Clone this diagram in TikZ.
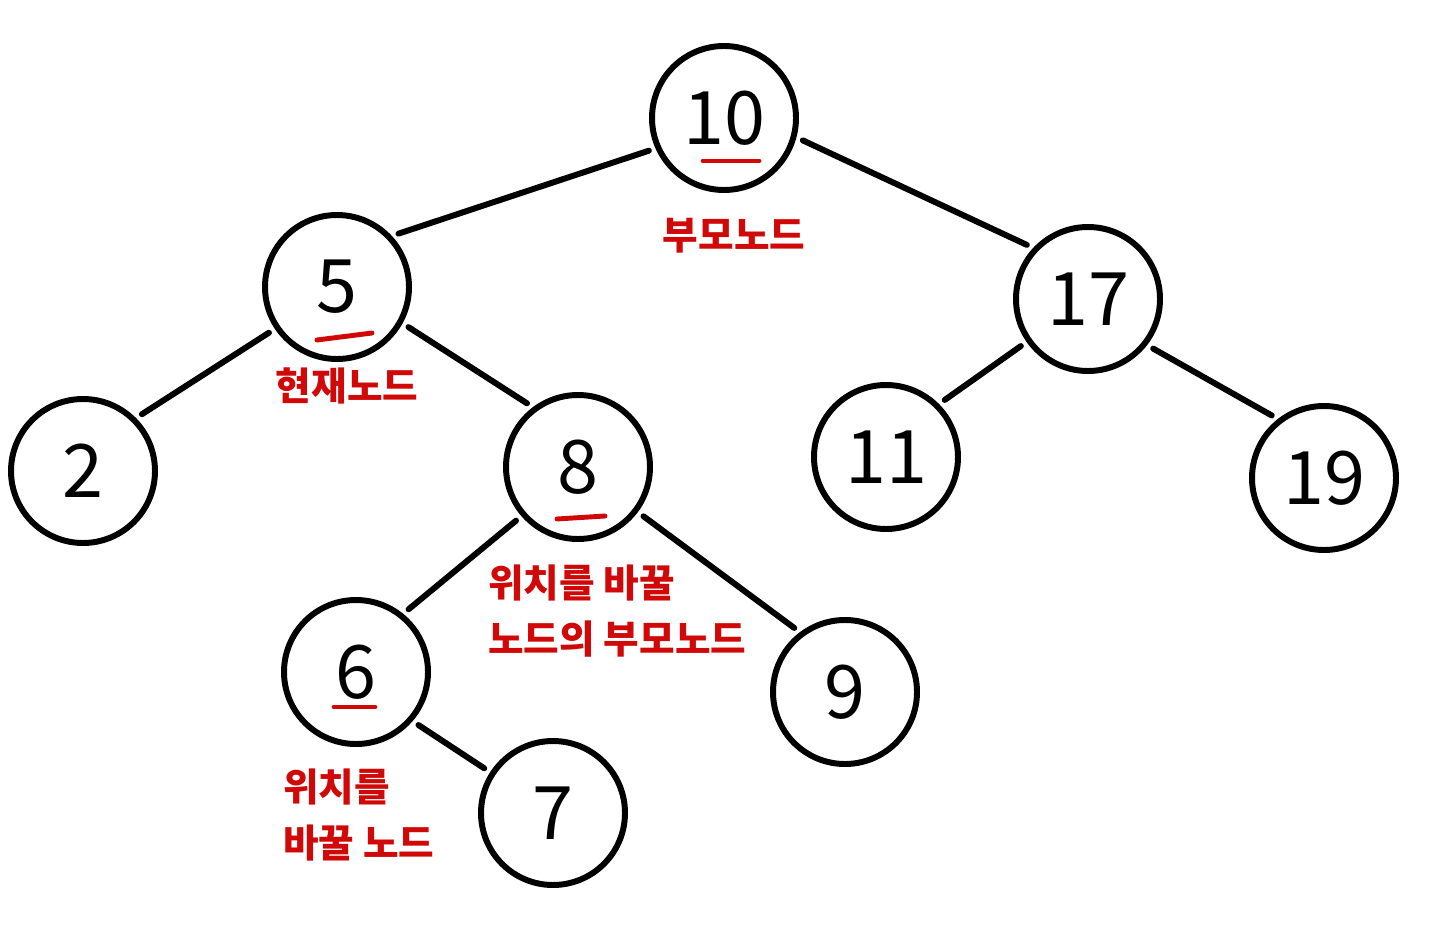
\documentclass[tikz,border=0pt]{standalone}
\usepackage{fontspec}
\setmainfont{Noto Sans CJK KR}
\usepackage{tikz}
\usetikzlibrary{calc}
\definecolor{penred}{RGB}{208,8,8}

\begin{document}
\begin{tikzpicture}[line cap=round,
    treenode/.style={circle, draw, line width=3.4pt, minimum size=2.88cm, inner sep=0pt, font=\fontsize{42}{42}\selectfont},
    edge/.style={line width=3.4pt, shorten <=0.14cm, shorten >=0.14cm},
    note/.style={text=penred, font=\fontsize{22}{32}\selectfont\bfseries, align=left, inner sep=0pt},
    uline/.style={penred, line width=2.8pt}]
        \useasboundingbox (0,0) rectangle (28.8,-18.68);
        
        % Tree nodes
        \node[treenode] (n10) at (14.48,-2.36) {10};
        \node[treenode] (n5) at (6.74,-5.74) {5};
        \node[treenode] (n17) at (21.76,-5.98) {17};
        \node[treenode] (n2) at (1.66,-9.42) {2};
        \node[treenode] (n8) at (11.56,-9.34) {8};
        \node[treenode] (n11) at (17.72,-9.14) {11};
        \node[treenode] (n19) at (26.48,-9.56) {19};
        \node[treenode] (n6) at (7.12,-13.44) {6};
        \node[treenode] (n9) at (16.9,-13.84) {9};
        \node[treenode] (n7) at (11.06,-16.26) {7};
        
        % Edges
        \draw[edge] (n10.204) -- (n5.43);
        \draw[edge] (n10.345) -- (n17.137);
        \draw[edge] (n5.214) -- (n2.45);
        \draw[edge] (n5.331) -- (n8.127);
        \draw[edge] (n17.215) -- (n11.45);
        \draw[edge] (n17.322) -- (n19.128);
        \draw[edge] (n8.221) -- (n6.51);
        \draw[edge] (n8.323) -- (n9.127);
        \draw[edge] (n6.319) -- (n7.147);
        
        % Red notes
        \node[note] (parent) at (14.68,-4.72) {부모노드};
        \node[note] (current) at (6.94,-7.72) {현재노드};
        \node[note, anchor=west] (swapparent) at (9.76,-12.22) {위치를 바꿀\\노드의 부모노드};
        \node[note, anchor=west] (swapnode) at (5.66,-16.3) {위치를\\바꿀 노드};
        
        % Underlines
        \draw[uline] ($(n10)+(-0.42,-0.86)$) -- ($(n10)+(0.7,-0.86)$);
        \draw[uline] ($(n5)+(-0.4,-1.06)$) -- ($(n5)+(0.7,-0.92)$);
        \draw[uline] ($(n8)+(-0.42,-1.04)$) -- ($(n8)+(0.54,-0.98)$);
        \draw[uline] ($(n6)+(-0.44,-0.7)$) -- ($(n6)+(0.38,-0.7)$);
\end{tikzpicture}
\end{document}
